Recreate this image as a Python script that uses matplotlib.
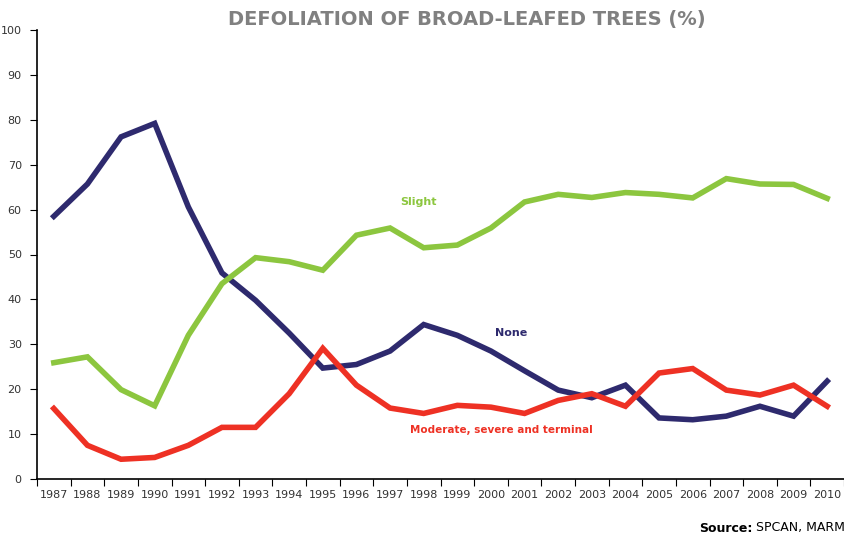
import numpy as np
import matplotlib.pyplot as plt

years = list(range(1987, 2011))
none = [58.5, 65.7, 76.2, 79.2, 60.6, 45.9, 39.8, 32.5, 24.7, 25.5, 28.5, 34.4,
        32.0, 28.5, 24.1, 19.8, 18.1, 20.9, 13.6, 13.2, 14.0, 16.2, 14.0, 21.8]
slight = [25.9, 27.2, 19.9, 16.3, 32.0, 43.5, 49.3, 48.4, 46.5, 54.3, 55.9, 51.5,
          52.1, 55.9, 61.7, 63.4, 62.7, 63.8, 63.4, 62.6, 66.9, 65.7, 65.6, 62.5]
moderate = [15.7, 7.5, 4.4, 4.8, 7.5, 11.5, 11.5, 19.0, 29.1, 20.9, 15.8, 14.6,
            16.4, 16.0, 14.6, 17.5, 19.0, 16.2, 23.6, 24.6, 19.8, 18.7, 20.9, 16.2]

c_none = '#2e2a6e'
c_slight = '#8cc63f'
c_mod = '#ee3124'

fig = plt.figure(figsize=(8.44, 5.36), dpi=100)
ax = fig.add_axes([37 / 844, 1 - 479 / 536, 807 / 844, 449 / 536])

x = np.arange(len(years))
ax.plot(x, none, color=c_none, lw=4, solid_joinstyle='miter')
ax.plot(x, slight, color=c_slight, lw=4, solid_joinstyle='miter')
ax.plot(x, moderate, color=c_mod, lw=4, solid_joinstyle='miter')

ax.set_xlim(-0.5, len(years) - 0.5)
ax.set_ylim(0, 100)
ax.set_yticks(range(0, 101, 10))
ax.set_xticks(np.arange(len(years) + 1) - 0.5)
ax.set_xticklabels([])
ax.set_xticks(x, minor=True)
ax.set_xticklabels([str(y) for y in years], minor=True)
ax.tick_params(axis='x', which='minor', length=0, pad=8, labelsize=8, labelcolor='#333333')
ax.tick_params(axis='x', which='major', length=5, direction='out')
ax.tick_params(axis='y', length=5, direction='out', labelsize=8, labelcolor='#333333', pad=6)

for s in ['top', 'right']:
    ax.spines[s].set_visible(False)
ax.spines['left'].set_linewidth(1.2)
ax.spines['bottom'].set_linewidth(1.2)

ax.text(10.84, 61.6, 'Slight', color=c_slight, fontsize=8, fontweight='bold', ha='center', va='center')
ax.text(13.6, 32.5, 'None', color=c_none, fontsize=8, fontweight='bold', ha='center', va='center')
ax.text(10.6, 11.0, 'Moderate, severe and terminal', color=c_mod, fontsize=7.5,
        fontweight='bold', ha='left', va='center')

fig.text(467 / 844, 1 - 20 / 536, 'DEFOLIATION OF BROAD-LEAFED TREES (%)', color='#808080',
         fontsize=14, fontweight='bold', ha='center', va='center')

fig.text(752 / 844, 1 - 528 / 536, 'Source:', fontsize=9, fontweight='bold', ha='right', va='center')
fig.text(756 / 844, 1 - 528 / 536, 'SPCAN, MARM', fontsize=9, ha='left', va='center')

fig.savefig('out.png', dpi=100)
